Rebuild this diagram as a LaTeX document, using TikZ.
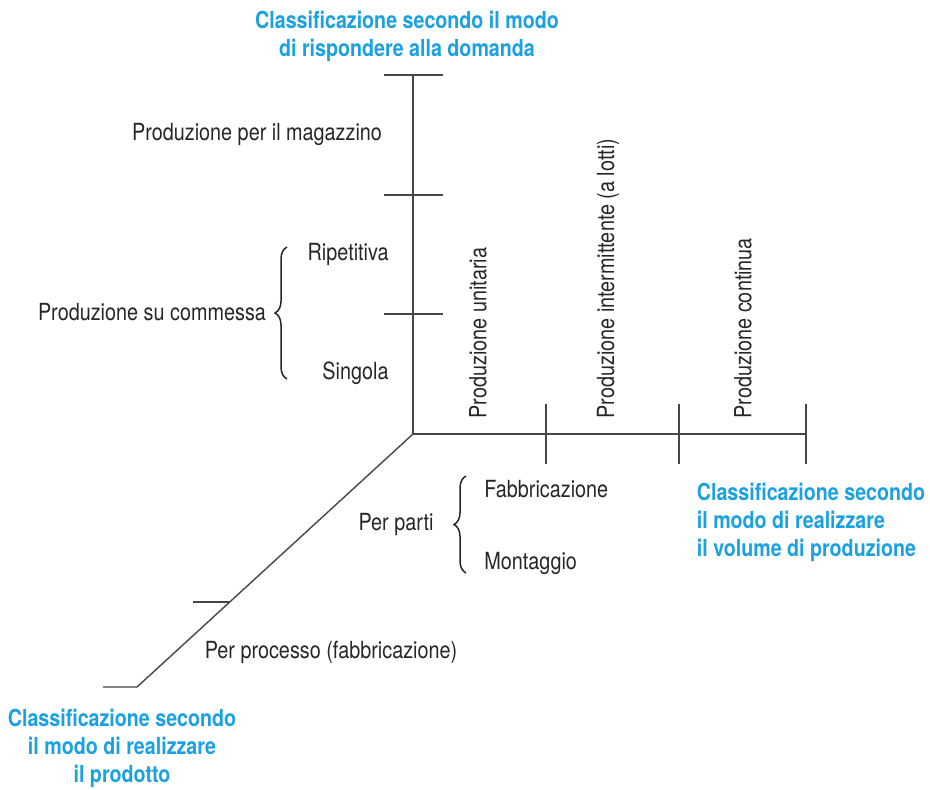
\documentclass[tikz,border=0pt]{standalone}
\usepackage{fontspec}
\setmainfont{TeX Gyre Heros}[FakeStretch=0.84]
\usepackage{tikz}
\usetikzlibrary{positioning, calc, decorations.pathreplacing}
\definecolor{axisgray}{RGB}{70, 70, 70}
\definecolor{titleblue}{RGB}{27, 161, 226}

\begin{document}
\begin{tikzpicture}[
    x=0.5pt, y=-0.5pt,
    every node/.style={font=\fontsize{11.8}{14}\selectfont, inner sep=0pt},
    axisline/.style={
        draw=axisgray,
        line width=0.7pt
    },
    ticks/.style={
        draw=axisgray,
        line width=0.6pt
    },
    curly/.style={
        draw=black!85,
        line width=0.75pt,
        decorate,
        decoration={brace, amplitude=6pt}
    },
    axistitle/.style={
        font=\bfseries\fontsize{11.7}{14}\selectfont,
        text=titleblue
    },
    label/.style={
        text=black!85
    },
    vlabel/.style={
        text=black!85,
        rotate=90,
        anchor=west
    }
]
\useasboundingbox (0,0) rectangle (930,789);

% ==================== AXES ====================
\coordinate (origin) at (413,434);
\coordinate (top_end) at (413,75);
\coordinate (right_end) at (806,434);
\coordinate (low_end) at (137,687);

\draw [axisline] (top_end) -- (origin) -- (right_end);
\draw [axisline] (origin) -- (low_end) -- ++(-34,0);

% ticks on the vertical axis
\foreach \ty in {75,195,314}
    \draw [ticks] (384,\ty) -- (443,\ty);
% ticks on the horizontal axis
\foreach \tx in {546,679,806}
    \draw [ticks] (\tx,404) -- (\tx,464);
% tick on the oblique axis
\coordinate (mid_tick) at (230,602);
\draw [ticks] (mid_tick) -- ++(-37,0);

% ==================== VERTICAL AXIS: DOMANDA ====================
\node (t_top) [axistitle, align=center] at (407,36) {Classificazione secondo il modo\\di rispondere alla domanda};
\node (v_magazzino) [label] at (257,134) {Produzione per il magazzino};
\node (v_commessa) [label] at (152,312) {Produzione su commessa};
\node (v_ripetitiva) [label, anchor=east] at (389,254) {Ripetitiva};
\node (v_singola) [label, anchor=east] at (389,373) {Singola};
\draw [curly] (287,379) -- (287,247);

% ==================== HORIZONTAL AXIS: VOLUME ====================
\node (h_unitaria) [vlabel] at (478,419) {Produzione unitaria};
\node (h_lotti) [vlabel] at (608,419) {Produzione intermittente (a lotti)};
\node (h_continua) [vlabel] at (743,419) {Produzione continua};
\node (t_right) [axistitle, align=left] at (811,522) {Classificazione secondo\\il modo di realizzare\\il volume di produzione};

% ==================== OBLIQUE AXIS: PRODOTTO ====================
\node (p_parti) [label] at (396,524) {Per parti};
\node (p_fabbricazione) [label, anchor=west] at (484,489) {Fabbricazione};
\node (p_montaggio) [label, anchor=west] at (484,563) {Montaggio};
\draw [curly] (466,573) -- (466,476);
\node (p_processo) [label] at (331,652) {Per processo (fabbricazione)};
\node (t_low) [axistitle, align=center] at (122,748) {Classificazione secondo\\il modo di realizzare\\il prodotto};

\end{tikzpicture}
\end{document}
